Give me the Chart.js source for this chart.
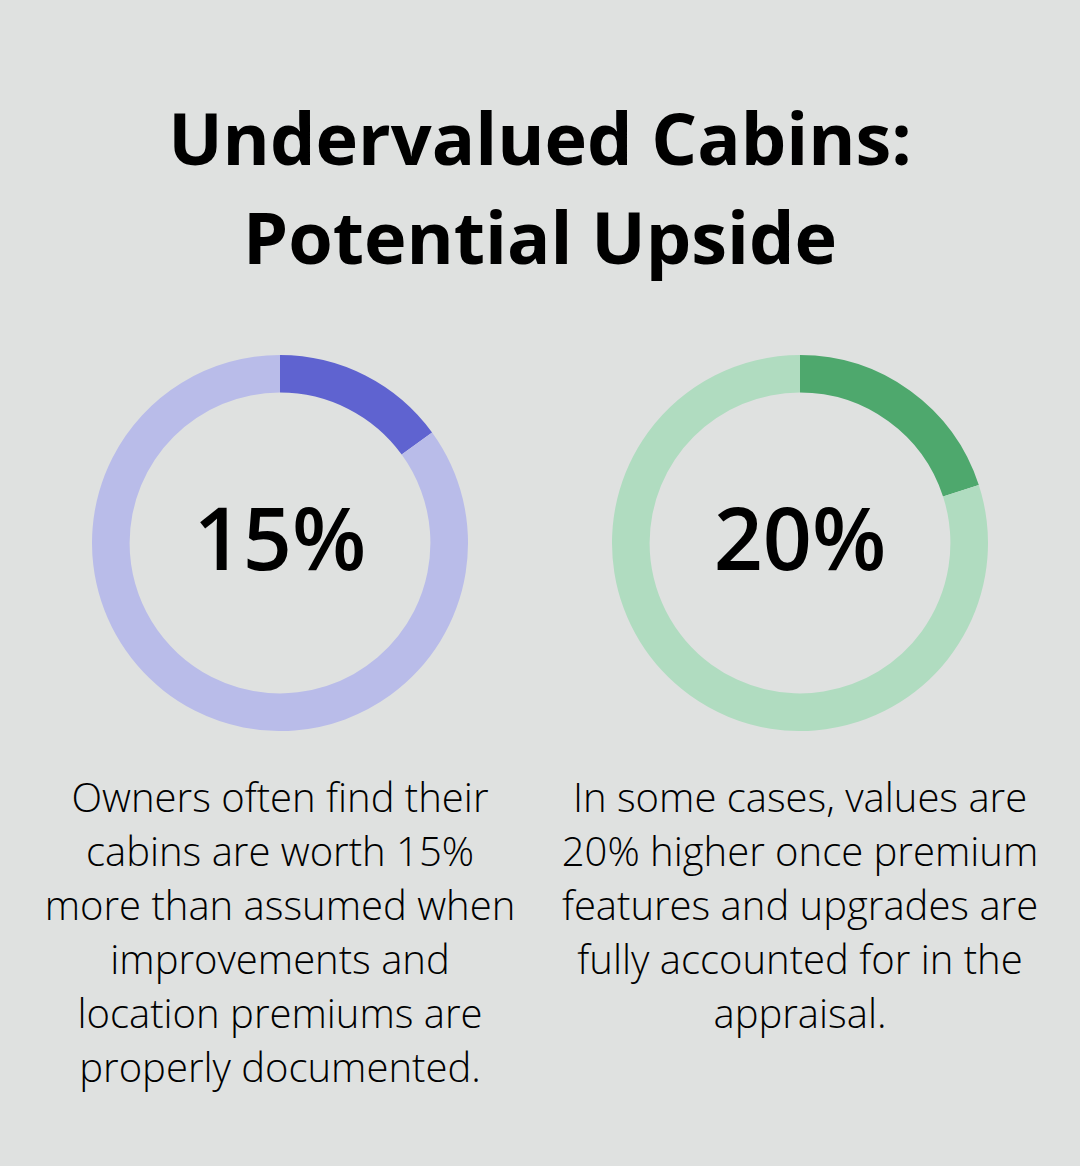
<!DOCTYPE html>
<html>
<head>
<meta charset="utf-8">
<script src="https://cdn.jsdelivr.net/npm/chart.js@4"></script>
<style>
    html, body {
        margin: 0;
        padding: 0;
        background: #dfe1e0;
        width: 1080px;
        height: 1166px;
        overflow: hidden;
        font-family: 'Open Sans', sans-serif;
    }
    .title {
        position: absolute;
        left: 0;
        top: 88px;
        width: 1080px;
        text-align: center;
        font-weight: 700;
        font-size: 72px;
        line-height: 99px;
        color: #000;
    }
    .ring {
        position: absolute;
        top: 355px;
        width: 376px;
        height: 376px;
    }
    .value {
        position: absolute;
        top: 482px;
        width: 376px;
        text-align: center;
        font-size: 86px;
        font-weight: 600;
        line-height: 110px;
        color: #000;
    }
    .desc {
        position: absolute;
        top: 770px;
        width: 520px;
        text-align: center;
        font-size: 40px;
        font-weight: 300;
        line-height: 54px;
        color: #000;
    }
</style>
</head>
<body>
<div class="title">Undervalued Cabins:<br>Potential Upside</div>

<div class="ring" style="left:92px"><canvas id="leftChart"></canvas></div>
<div class="ring" style="left:612px"><canvas id="rightChart"></canvas></div>
<div class="value" style="left:92px" id="leftValue"></div>
<div class="value" style="left:612px" id="rightValue"></div>

<div class="desc" style="left:20px" id="leftDesc"></div>
<div class="desc" style="left:540px" id="rightDesc"></div>

<script>
// Data
const labels = ['Upside', 'Rest'];
const leftValues = [15, 85];
const rightValues = [20, 80];
const leftColors = ['#5f63d0', '#b9bce9'];
const rightColors = ['#4ea86d', '#b0dcc0'];

const leftText = ['Owners often find their', 'cabins are worth 15%', 'more than assumed when',
    'improvements and', 'location premiums are', 'properly documented.'];
const rightText = ['In some cases, values are', '20% higher once premium',
    'features and upgrades are', 'fully accounted for in the', 'appraisal.'];

document.getElementById('leftValue').textContent = leftValues[0] + '%';
document.getElementById('rightValue').textContent = rightValues[0] + '%';
document.getElementById('leftDesc').innerHTML = leftText.join('<br>');
document.getElementById('rightDesc').innerHTML = rightText.join('<br>');

function renderRing(id, values, colors) {
    const ctx = document.getElementById(id).getContext('2d');
    return new Chart(ctx, {
        type: 'doughnut',
        data: {
            labels: labels,
            datasets: [{
                data: values,
                backgroundColor: colors,
                borderWidth: 0,
                hoverOffset: 0
            }]
        },
        options: {
            responsive: true,
            maintainAspectRatio: false,
            animation: false,
            cutout: '80%',
            layout: { padding: 0 },
            plugins: {
                legend: { display: false },
                tooltip: { enabled: false }
            }
        }
    });
}

renderRing('leftChart', leftValues, leftColors);
renderRing('rightChart', rightValues, rightColors);
</script>
</body>
</html>
